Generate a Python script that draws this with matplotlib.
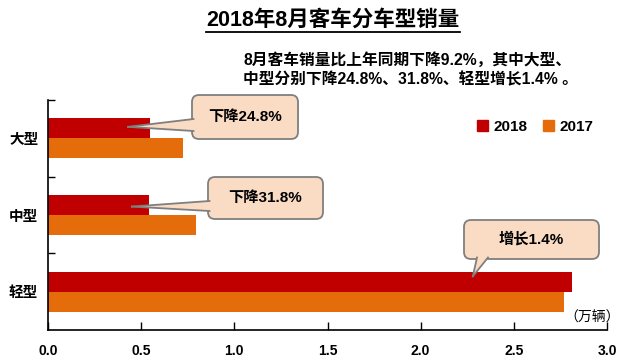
import matplotlib
matplotlib.use("Agg")
import matplotlib.pyplot as plt
from matplotlib.patches import FancyBboxPatch, Polygon, Patch
from matplotlib.lines import Line2D
from matplotlib.transforms import IdentityTransform
import numpy as np

plt.rcParams['font.family'] = ['Liberation Sans', 'Noto Sans CJK SC', 'DejaVu Sans']

categories = ['大型', '中型', '轻型']
sales_2018 = [0.545, 0.543, 2.81]
sales_2017 = [0.725, 0.796, 2.77]
series_names = ['2018', '2017']
xticks = [0.0, 0.5, 1.0, 1.5, 2.0, 2.5, 3.0]
title = '2018年8月客车分车型销量'
subtitle = ['8月客车销量比上年同期下降9.2%，其中大型、', '中型分别下降24.8%、31.8%、轻型增长1.4% 。']
callout_texts = ['下降24.8%', '下降31.8%', '增长1.4%']
unit = '（万辆）'

C18 = '#C00000'
C17 = '#E46C0A'
FILL = '#FADCC4'
EDGE = '#7F7F7F'

W, H = 642, 364
fig = plt.figure(figsize=(W / 100, H / 100), dpi=100)
fig.patch.set_facecolor('white')

ax = fig.add_axes([48 / W, (H - 330) / H, 559 / W, 230 / H])
y = np.arange(len(categories))
bh = 0.26
ax.barh(y - bh / 2, sales_2018, height=bh, color=C18, zorder=2)
ax.barh(y + bh / 2, sales_2017, height=bh, color=C17, zorder=2)
ax.set_xlim(0, 3.0)
ax.set_ylim(2.5, -0.5)
ax.spines['top'].set_visible(False)
ax.spines['right'].set_visible(False)
for s in ['left', 'bottom']:
    ax.spines[s].set_linewidth(1.2)
    ax.spines[s].set_color('black')
ax.set_xticks(xticks)
ax.set_xticklabels([f'{v:.1f}' for v in xticks], fontsize=10, fontweight='bold')
ax.tick_params(axis='x', direction='in', length=6, width=1, pad=10)
ax.set_yticks(y)
ax.set_yticklabels(categories, fontsize=10.5, fontweight='bold')
ax.tick_params(axis='y', which='major', length=0, pad=7)
ax.set_yticks([-0.5, 0.5, 1.5], minor=True)
ax.tick_params(axis='y', which='minor', direction='in', length=5, width=1)

# legend
handles = [Patch(color=C18), Patch(color=C17)]
ax.legend(handles, series_names, loc='center right', bbox_to_anchor=(0.99, 0.883),
          ncol=2, frameon=False, handlelength=0.7, handleheight=0.7,
          handletextpad=0.4, columnspacing=1.0, borderpad=0,
          prop={'weight': 'bold', 'size': 11})

# title with underline
t = fig.text(333 / W, 1 - 20 / H, title, ha='center', va='center', fontsize=15.5, fontweight='bold')
fig.text(243 / W, 1 - 60 / H, subtitle[0], ha='left', va='center', fontsize=11.3, fontweight='bold')
fig.text(243 / W, 1 - 80 / H, subtitle[1], ha='left', va='center', fontsize=11.3, fontweight='bold')
fig.text(592 / W, 1 - 318 / H, unit, ha='center', va='center', fontsize=10,
         family=['Noto Sans CJK SC', 'DejaVu Sans'])

fig.canvas.draw()
bb = t.get_window_extent()
fig.add_artist(Line2D([bb.x0 / W, bb.x1 / W], [(H - 32) / H] * 2, color='black', lw=1.3,
                      transform=fig.transFigure))

ident = IdentityTransform()


def P(x, yy):
    return (x, H - yy)


def callout(box, base, tip_data, text):
    x0, y0, x1, y1 = box
    patch = FancyBboxPatch(P(x0, y1), x1 - x0, y1 - y0,
                           boxstyle='round,pad=0,rounding_size=7',
                           transform=ident, fc=FILL, ec=EDGE, lw=1.3, zorder=5)
    fig.add_artist(patch)
    tip = ax.transData.transform(tip_data)
    b1, b2 = P(*base[0]), P(*base[1])
    poly = Polygon([b1, tuple(tip), b2], closed=True, transform=ident, fc=FILL, ec='none', zorder=6)
    fig.add_artist(poly)
    for b in (b1, b2):
        fig.add_artist(Line2D([b[0], tip[0]], [b[1], tip[1]], color=EDGE, lw=1.3,
                              transform=ident, zorder=7))
    cx, cy = P((x0 + x1) / 2, (y0 + y1) / 2)
    fig.text(cx / W, cy / H, text, ha='center', va='center', fontsize=11,
             fontweight='bold', zorder=8)


callout((192, 95, 298, 139), [(193.5, 119), (193.5, 131)], (0.43, -0.15), callout_texts[0])
callout((208, 177, 323, 219), [(209.5, 201), (209.5, 211)], (0.45, 0.89), callout_texts[1])
callout((464, 220, 599, 259), [(477, 257.5), (488, 257.5)], (2.28, 1.80), callout_texts[2])

fig.savefig('out.png', dpi=100)
